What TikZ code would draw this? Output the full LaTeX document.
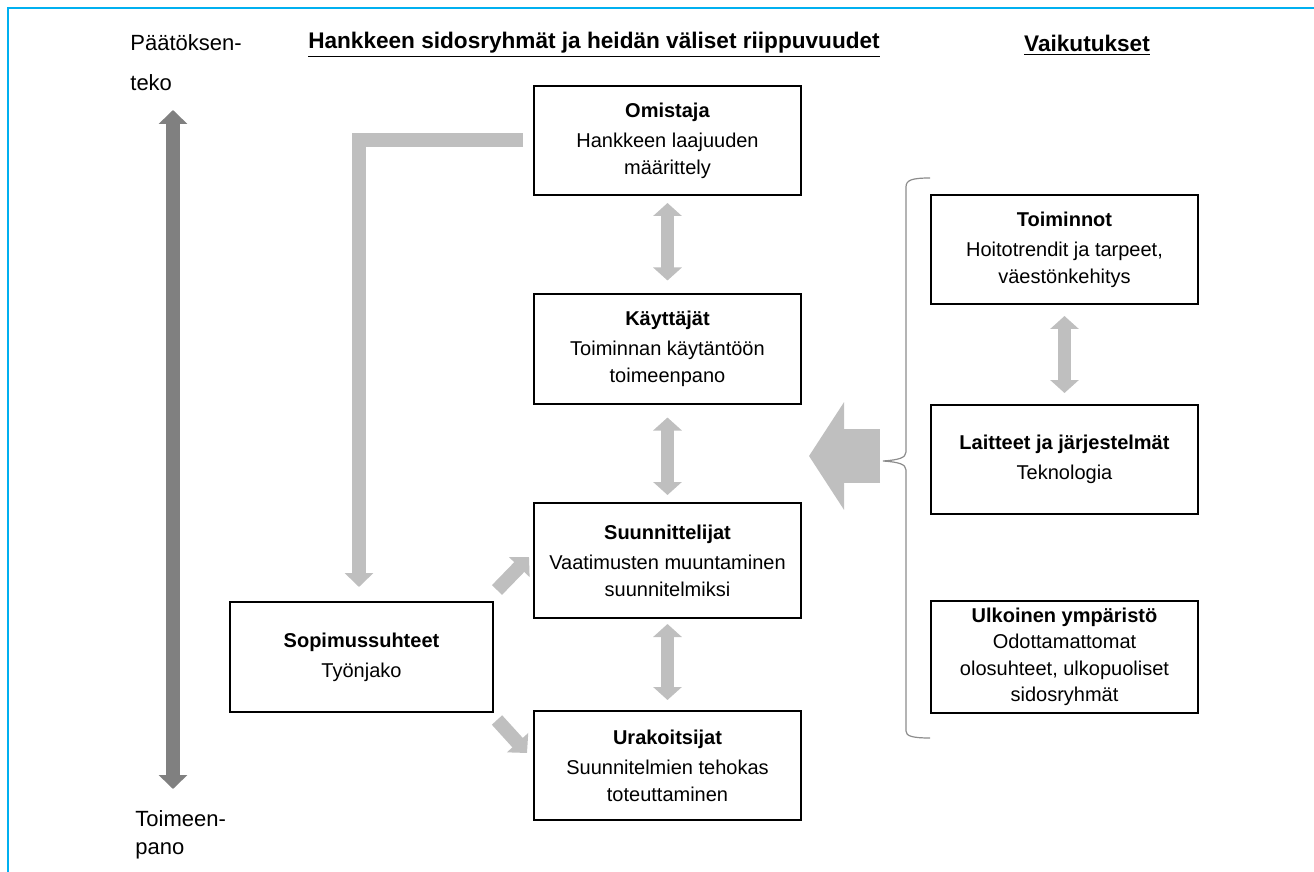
\documentclass[tikz,border=0pt]{standalone}
\usepackage{fontspec}
\setmainfont{Liberation Sans}
\usetikzlibrary{arrows.meta}
\definecolor{kehys}{RGB}{0,176,240}
\definecolor{vaalea}{RGB}{191,191,191}
\definecolor{tumma}{RGB}{128,128,128}
\tikzset{
  x=0.5pt, y=-0.5pt,
  ryhma/.style={draw, line width=1pt, minimum width=133.5pt, minimum height=54.5pt,
    align=center, inner sep=1pt, font=\fontsize{10}{13.5}\selectfont},
  otsikko/.style={font=\fontsize{11.3}{14}\selectfont\bfseries},
  reuna/.style={anchor=north west, inner sep=0pt, align=left, font=\fontsize{11}{14}\selectfont},
  suhde/.style={draw=vaalea, line width=6.5pt,
    {Triangle[width=14pt,length=6.5pt]}-{Triangle[width=14pt,length=6.5pt]}},
  nuoli/.style={draw=vaalea, line width=7pt, -{Triangle[width=14pt,length=7pt]}}
  }

\begin{document}
\begin{tikzpicture}

    \useasboundingbox (0,0) rectangle (1314,872);
    \draw[kehys, line width=1.2pt] (8,872) -- (8,8) -- (1314,8);

    \node[otsikko] (sidosryhmat) at (594,45) {\underline{Hankkeen sidosryhmät ja heidän väliset riippuvuudet}};
    \node[otsikko] (vaikutukset) at (1087,45) {\underline{Vaikutukset}};

    \node[reuna] (paatos) at (130,34) {Päätöksen-\\[6pt]teko};
    \node[reuna] (toimeenpano) at (135,810) {Toimeen-\\pano};
    \coordinate (ylos) at (173,110);
    \coordinate (alas) at (173,789);
    \draw[tumma, line width=7pt,
      {Triangle[width=14pt,length=7pt]}-{Triangle[width=14pt,length=7pt]}] (ylos) -- (alas);

    % keskimmainen sarake
    \node[ryhma] (omistaja) at (667.5,140.5) {\textbf{Omistaja}\\[1.5pt]Hankkeen laajuuden\\määrittely};
    \node[ryhma] (kayttajat) at (667.5,349) {\textbf{Käyttäjät}\\[1.5pt]Toiminnan käytäntöön\\toimeenpano};
    \node[ryhma, minimum height=57.5pt] (suunnittelijat) at (667.5,560.5) {\textbf{Suunnittelijat}\\[1.5pt]Vaatimusten muuntaminen\\suunnitelmiksi};
    \node[ryhma] (urakoitsijat) at (667.5,765.5) {\textbf{Urakoitsijat}\\[1.5pt]Suunnitelmien tehokas\\toteuttaminen};
    \node[ryhma, minimum width=131.5pt, minimum height=55pt] (sopimus) at (361.5,657) {\textbf{Sopimussuhteet}\\[1.5pt]Työnjako};

    % vaikutukset
    \node[ryhma] (toiminnot) at (1064.5,249.5) {\textbf{Toiminnot}\\[1.5pt]Hoitotrendit ja tarpeet,\\väestönkehitys};
    \node[ryhma] (laitteet) at (1064.5,459.5) {\textbf{Laitteet ja järjestelmät}\\[1.5pt]Teknologia};
    \node[ryhma, minimum height=56pt, font=\fontsize{10}{13.2}\selectfont] (ulkoinen) at (1064.5,657) {\textbf{Ulkoinen ympäristö}\\Odottamattomat\\olosuhteet, ulkopuoliset\\sidosryhmät};

    \draw[suhde, shorten <=3.5pt, shorten >=6.5pt] (omistaja) -- (kayttajat);
    \draw[suhde, shorten <=6.5pt, shorten >=3.5pt] (kayttajat) -- (suunnittelijat);
    \draw[suhde, shorten <=2.5pt, shorten >=5pt] (suunnittelijat) -- (urakoitsijat);
    \draw[suhde, shorten <=5.5pt, shorten >=5.5pt] (toiminnot) -- (laitteet);

    \draw[nuoli, line join=miter, shorten <=5pt, shorten >=7pt] (omistaja.west) -| ([xshift=-1.25pt]sopimus.north);
    \draw[nuoli] ([shift={(1.5pt,5.5pt)}]sopimus.north east) -- ([shift={(-2pt,1.75pt)}]suunnittelijat.west);
    \draw[nuoli] ([shift={(1.5pt,-3.5pt)}]sopimus.south east) -- ([shift={(-3pt,6.25pt)}]urakoitsijat.west);

    % iso nuoli ja aaltosulje
    \coordinate (vaikutus) at (880,456);
    \coordinate (keskelle) at (809,456);
    \draw[vaalea, line width=27pt, -{Triangle[width=53pt,length=17.5pt]}] (vaikutus) -- (keskelle);
    \draw[black!45, line width=0.6pt] (930,178) .. controls (912,178) and (906,180) .. (906,187)
      -- (906,452) .. controls (906,458) and (898,460) .. (883,461)
      .. controls (898,462) and (906,464) .. (906,470)
      -- (906,731) .. controls (906,736) and (912,738) .. (930,738);

  \end{tikzpicture}
\end{document}
